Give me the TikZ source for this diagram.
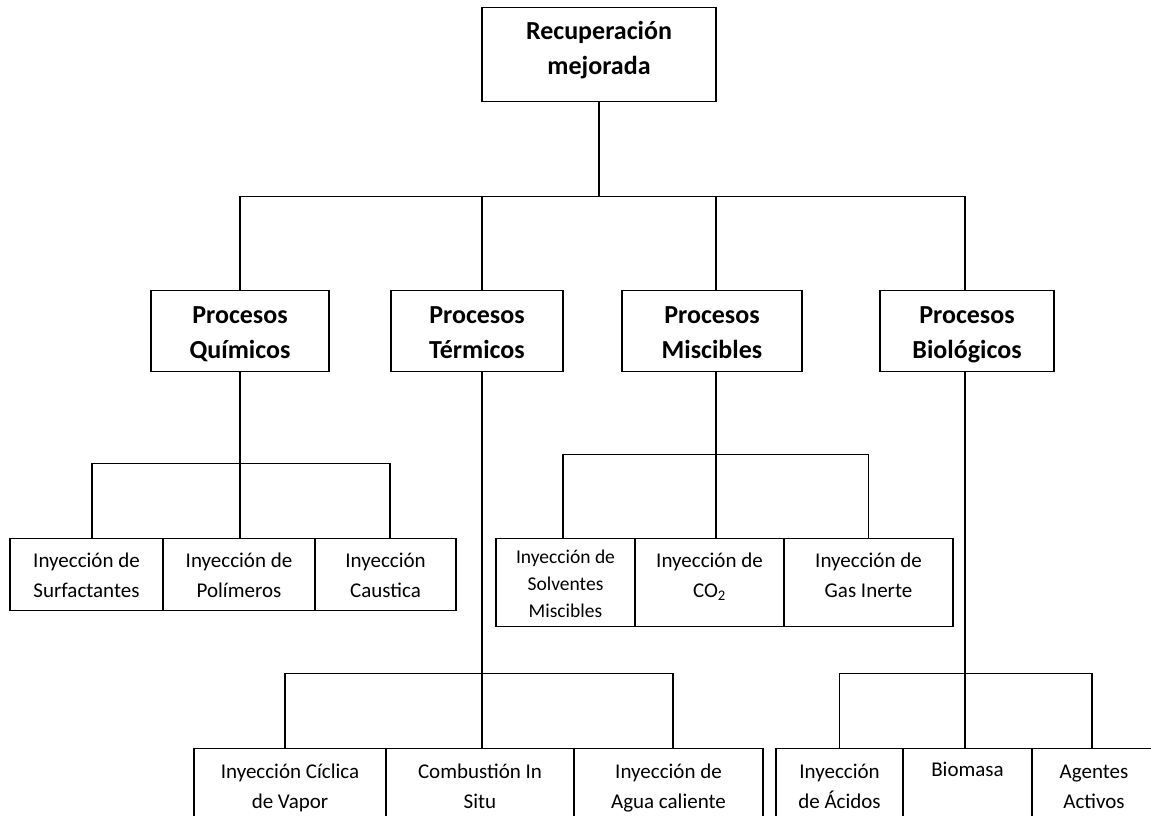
\documentclass[tikz,border=0pt]{standalone}
\usepackage{fontspec}
\setmainfont{Carlito}

\newcommand{\fuenteA}{\fontsize{26}{35}\selectfont\bfseries}
\newcommand{\fuenteB}{\fontsize{21}{30}\selectfont}
\newcommand{\fuenteC}{\fontsize{19.5}{27}\selectfont}
% caja: ancho, alto, fuente, margen superior, texto
\newcommand{\caja}[5]{\parbox[c][#2pt][t]{#1pt}{#3\centering\vspace*{#4pt}\strut #5}}

\tikzset{
  recuadro/.style={draw, line width=1.4pt, inner sep=0pt, anchor=north},
  linea/.style={line width=1.4pt}
}

\begin{document}
\begin{tikzpicture}[x=1pt, y=-1pt]
        \useasboundingbox (0,0) rectangle (1151,816);
        \fill[white] (0,0) rectangle (1151,816);

        % Nivel superior
        \node[recuadro] (recup) at (599,7) {\caja{234}{94}{\fuenteA}{7.5}{Recuperación\\mejorada}};

        % Procesos
        \node[recuadro] (quim) at (240,290) {\caja{178}{81}{\fuenteA}{8.5}{Procesos\\Químicos}};
        \node[recuadro] (term) at (477,290) {\caja{172}{81}{\fuenteA}{8.5}{Procesos\\Térmicos}};
        \node[recuadro] (misc) at (712,290) {\caja{180}{81}{\fuenteA}{8.5}{Procesos\\Miscibles}};
        \node[recuadro] (biol) at (967,290) {\caja{174}{81}{\fuenteA}{8.5}{Procesos\\Biológicos}};

        \draw[linea] (recup.south) -- ++(0,94) coordinate (barra);
        \foreach \n/\dx in {quim/0, term/5, misc/4, biol/-2}
            \draw[linea] (barra) -| ([xshift=\dx pt]\n.north);

        % Procesos químicos
        \node[recuadro] (surf) at (86.5,538) {\caja{153}{72}{\fuenteB}{8}{Inyección de\\Surfactantes}};
        \node[recuadro] (poli) at (239,538) {\caja{152}{72}{\fuenteB}{8}{Inyección de\\Polímeros}};
        \node[recuadro] (caus) at (385.5,538) {\caja{141}{72}{\fuenteB}{8}{Inyección\\Caustica}};

        \draw[linea] (quim.south) -- ++(0,91) coordinate (bquim);
        \foreach \n/\dx in {surf/5.5, poli/1, caus/4.5}
            \draw[linea] (bquim) -| ([xshift=\dx pt]\n.north);

        % Procesos miscibles
        \node[recuadro] (solv) at (565.5,538) {\caja{139}{88}{\fuenteC}{6}{Inyección de\\Solventes\\Miscibles}};
        \node[recuadro] (co2) at (709.5,538) {\caja{149}{88}{\fuenteB}{8}{Inyección de\\CO\textsubscript{2}}};
        \node[recuadro] (gas) at (868.5,538) {\caja{169}{88}{\fuenteB}{8}{Inyección de\\Gas Inerte}};

        \draw[linea] ([xshift=4pt]misc.south) -- ++(0,82) coordinate (bmisc);
        \foreach \n/\dx in {solv/-2.5, co2/6.5, gas/0}
            \draw[linea] (bmisc) -| ([xshift=\dx pt]\n.north);

        % Procesos termicos
        \node[recuadro] (cicl) at (290,748) {\caja{192}{100}{\fuenteB}{9}{Inyección Cíclica\\de Vapor}};
        \node[recuadro] (comb) at (480,748) {\caja{188}{100}{\fuenteB}{9}{Combustión In\\Situ}};
        \node[recuadro] (agua) at (668.5,748) {\caja{189}{100}{\fuenteB}{9}{Inyección de\\Agua caliente}};

        \draw[linea] ([xshift=5pt]term.south) -- ++(0,301) coordinate (bterm);
        \foreach \n/\dx in {cicl/-5, comb/2, agua/4.5}
            \draw[linea] (bterm) -| ([xshift=\dx pt]\n.north);

        % Procesos biologicos
        \node[recuadro] (acid) at (839.5,748) {\caja{127}{100}{\fuenteB}{9}{Inyección\\de Ácidos}};
        \node[recuadro] (biom) at (967.5,748) {\caja{129}{100}{\fuenteB}{7}{Biomasa}};
        \node[recuadro] (agen) at (1094,748) {\caja{124}{100}{\fuenteB}{9}{Agentes\\Activos}};

        \draw[linea] ([xshift=-2pt]biol.south) -- ++(0,301) coordinate (bbiol);
        \foreach \n/\dx in {acid/0, biom/-2.5, agen/-2}
            \draw[linea] (bbiol) -| ([xshift=\dx pt]\n.north);
\end{tikzpicture}
\end{document}
